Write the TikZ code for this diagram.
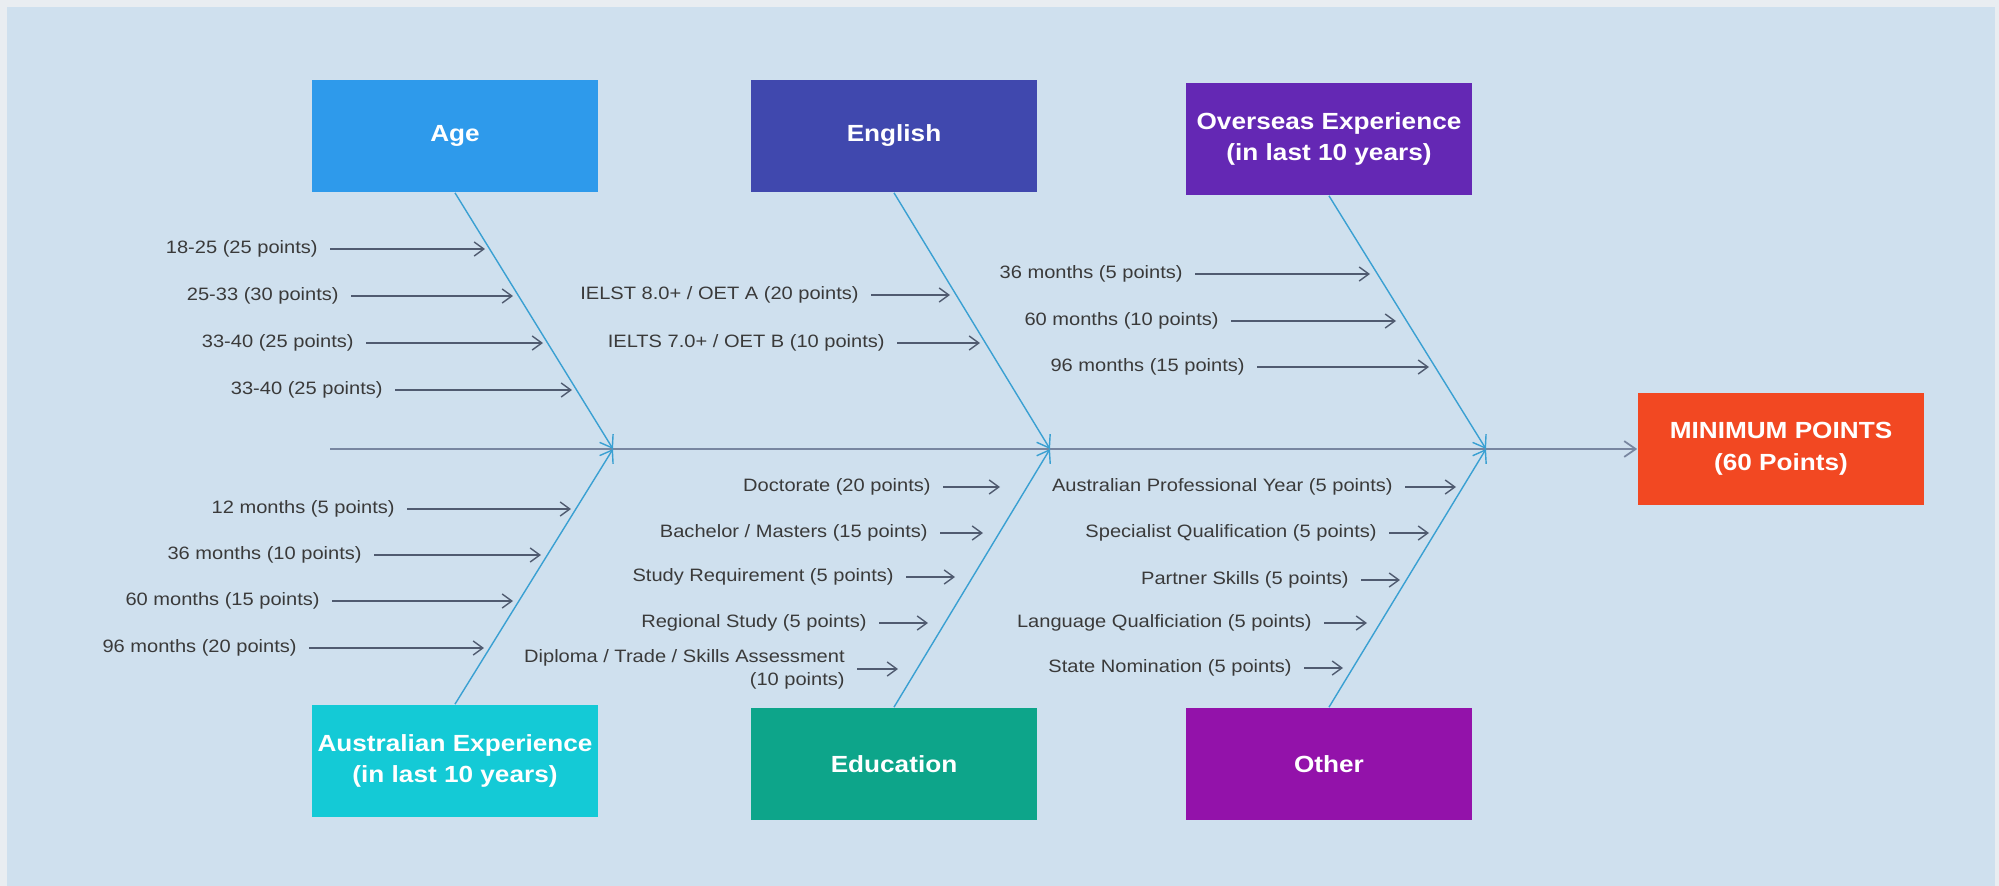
\documentclass[tikz,border=0pt]{standalone}
\usepackage{fontspec}
\setmainfont{Liberation Sans}[FakeStretch=1.12]
\usetikzlibrary{arrows.meta}

\definecolor{pagegray}{HTML}{E9EDF1}
\definecolor{bgblue}{HTML}{CFE0EE}
\definecolor{ageblue}{HTML}{2E9AEB}
\definecolor{engblue}{HTML}{4048AE}
\definecolor{ovpurple}{HTML}{6428B4}
\definecolor{aucyan}{HTML}{14CAD6}
\definecolor{edugreen}{HTML}{0DA58A}
\definecolor{othpurple}{HTML}{9312AA}
\definecolor{minred}{HTML}{F24822}
\definecolor{txtgray}{HTML}{3A3A3A}
\definecolor{leggray}{HTML}{505B70}
\definecolor{bonecol}{HTML}{3AA0D2}
\definecolor{spinecol}{HTML}{7886A0}

\tikzset{
	cat/.style={fill=#1, text=white, minimum width=5.74cm, minimum height=2.26cm, inner sep=0pt, align=center, font=\bfseries\fontsize{13.3}{18}\selectfont},
	lbl/.style={anchor=east, inner xsep=0.24cm, inner ysep=0pt, align=right, text=txtgray, font=\fontsize{10.2}{13}\selectfont},
	leg/.style={draw=leggray, line width=0.8pt, -{Straight Barb[length=5.5pt,width=8pt]}},
	bone/.style={draw=bonecol, line width=0.8pt, -{Straight Barb[length=6.5pt,width=9pt]}},
	spine/.style={draw=spinecol, line width=1pt, -{Straight Barb[length=6.5pt,width=9pt]}}
}

\begin{document}
\begin{tikzpicture}[x=0.02cm, y=-0.02cm]
	\useasboundingbox (0,0) rectangle (1999,886);
	\fill[pagegray] (0,0) rectangle (1999,886);
	\fill[bgblue] (7,7) rectangle (1995,886);

	\node[cat=ageblue] (age) at (455,136) {Age};
	\node[cat=engblue] (eng) at (894,136) {English};
	\node[cat=ovpurple] (ovs) at (1329,139) {Overseas Experience\\(in last 10 years)};
	\node[cat=aucyan] (aus) at (455,761) {Australian Experience\\(in last 10 years)};
	\node[cat=edugreen] (edu) at (894,764) {Education};
	\node[cat=othpurple] (oth) at (1329,764) {Other};
	\node[cat=minred] (minpts) at (1781,449) {MINIMUM POINTS\\(60 Points)};

	\coordinate (s0) at (330,449);
	\coordinate (j1) at (613,449);
	\coordinate (j2) at (1050,449);
	\coordinate (j3) at (1486,449);

	\draw[spine] (s0) -- (minpts);
	\draw[bone] (age.south) -- (j1);
	\draw[bone] (aus.north) -- (j1);
	\draw[bone] (eng.south) -- (j2);
	\draw[bone] (edu.north) -- (j2);
	\draw[bone] (ovs.south) -- (j3);
	\draw[bone] (oth.north) -- (j3);

	\foreach \txt/\xa/\xb/\y [count=\i] in {18-25 (25 points)/330/485/249, 25-33 (30 points)/351/513/296, 33-40 (25 points)/366/543/343, 33-40 (25 points)/395/572/390}{
		\node[lbl] (age\i) at (\xa,\y) {\txt};
		\coordinate (age\i t) at (\xb,\y);
		\draw[leg] (age\i) -- (age\i t);
	}
	\foreach \txt/\xa/\xb/\y [count=\i] in {12 months (5 points)/407/571/509, 36 months (10 points)/374/541/555, 60 months (15 points)/332/513/601, 96 months (20 points)/309/484/648}{
		\node[lbl] (aus\i) at (\xa,\y) {\txt};
		\coordinate (aus\i t) at (\xb,\y);
		\draw[leg] (aus\i) -- (aus\i t);
	}
	\foreach \txt/\xa/\xb/\y [count=\i] in {{IELST 8.0+ / OET A (20 points)}/871/950/295, {IELTS 7.0+ / OET B (10 points)}/897/980/343}{
		\node[lbl] (eng\i) at (\xa,\y) {\txt};
		\coordinate (eng\i t) at (\xb,\y);
		\draw[leg] (eng\i) -- (eng\i t);
	}
	\foreach \txt/\xa/\xb/\y [count=\i] in {{Doctorate (20 points)}/943/1000/487, {Bachelor / Masters (15 points)}/940/983/533, {Study Requirement (5 points)}/906/955/577, {Regional Study (5 points)}/879/928/623, {Diploma / Trade / Skills Assessment\\(10 points)}/857/898/669}{
		\node[lbl] (edu\i) at (\xa,\y) {\txt};
		\coordinate (edu\i t) at (\xb,\y);
		\draw[leg] (edu\i) -- (edu\i t);
	}
	\foreach \txt/\xa/\xb/\y [count=\i] in {36 months (5 points)/1195/1370/274, 60 months (10 points)/1231/1396/321, 96 months (15 points)/1257/1429/367}{
		\node[lbl] (ovs\i) at (\xa,\y) {\txt};
		\coordinate (ovs\i t) at (\xb,\y);
		\draw[leg] (ovs\i) -- (ovs\i t);
	}
	\foreach \txt/\xa/\xb/\y [count=\i] in {Australian Professional Year (5 points)/1405/1456/487, Specialist Qualification (5 points)/1389/1429/533, Partner Skills (5 points)/1361/1400/580, Language Qualficiation (5 points)/1324/1367/623, State Nomination (5 points)/1304/1343/668}{
		\node[lbl] (oth\i) at (\xa,\y) {\txt};
		\coordinate (oth\i t) at (\xb,\y);
		\draw[leg] (oth\i) -- (oth\i t);
	}
\end{tikzpicture}
\end{document}
